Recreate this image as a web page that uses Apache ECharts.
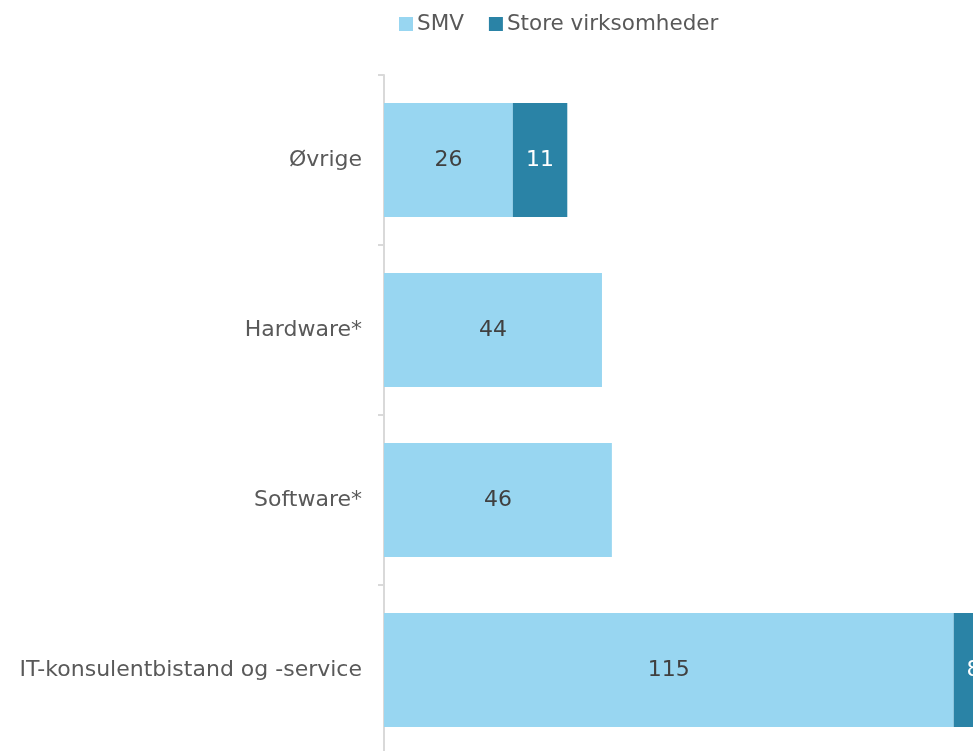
<!DOCTYPE html>
<html><head><meta charset="utf-8">
<script src="https://cdn.jsdelivr.net/npm/echarts@6/dist/echarts.min.js"></script>
<style>html,body{margin:0;padding:0;background:#fff}#c{width:973px;height:751px}</style>
</head><body><div id="c"></div>
<script>
const categories = ["IT-konsulentbistand og -service", "Software*", "Hardware*", "Øvrige"];
const smv = [115, 46, 44, 26];
const store = [8, null, null, 11];
const seriesNames = ["SMV", "Store virksomheder"];

const chart = echarts.init(document.getElementById('c'));
const FONT = '"DejaVu Sans", sans-serif';
const W = 'normal';
chart.setOption({
  animation: false,
  textStyle: { fontFamily: FONT, fontWeight: W },
  legend: {
    left: 394, top: 8,
    itemWidth: 14, itemHeight: 14, itemGap: 25,
    icon: 'rect',
    textStyle: { fontSize: 21.5, color: '#595959', fontFamily: FONT, fontWeight: W, padding: [0, 0, 0, -1] },
    data: seriesNames
  },
  grid: { left: 384, top: 75, width: 644, height: 680, containLabel: false, outerBoundsMode: 'none' },
  xAxis: { type: 'value', min: 0, max: 130, show: false },
  yAxis: {
    type: 'category', data: categories,
    axisLine: { show: true, lineStyle: { color: '#d9d9d9', width: 2 } },
    axisTick: { show: true, length: 6, lineStyle: { color: '#d9d9d9', width: 2 } },
    axisLabel: { fontSize: 22, color: '#595959', margin: 22, fontFamily: FONT, fontWeight: W, padding: [3, 0, 0, 0] }
  },
  series: [
    {
      name: seriesNames[0], type: 'bar', stack: 'a', data: smv,
      barCategoryGap: '33%',
      itemStyle: { color: '#98D6F1' },
      label: { show: true, position: 'inside', fontSize: 22, color: '#404040', fontFamily: FONT, fontWeight: W }
    },
    {
      name: seriesNames[1], type: 'bar', stack: 'a', data: store,
      itemStyle: { color: '#2A83A6' },
      label: { show: true, position: 'inside', fontSize: 22, color: '#ffffff', fontFamily: FONT, fontWeight: W }
    }
  ]
});
</script></body></html>
